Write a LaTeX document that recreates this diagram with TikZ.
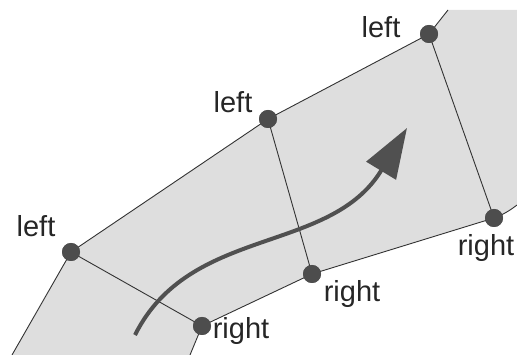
\documentclass[tikz,border=0pt]{standalone}
\usepackage{fontspec}
\setmainfont{Liberation Sans}
\usetikzlibrary{arrows.meta}
\definecolor{stripgray}{RGB}{222, 222, 222}
\definecolor{dotgray}{RGB}{77, 77, 77}
\definecolor{arrowgray}{RGB}{80, 80, 80}

\begin{document}
\begin{tikzpicture}[x=1pt, y=-1pt,
    dot/.style={circle, fill=dotgray, inner sep=0pt, minimum size=18pt},
    lbl/.style={anchor=base, font=\fontsize{29}{30}\selectfont, text=black!85, inner sep=0pt},
    edge/.style={line width=0.9pt, black!80}]
    \useasboundingbox (0,0) rectangle (517,355);

    % corner points of the strip
    \coordinate (bl) at (12,355);
    \coordinate (bm) at (190,355);
    \coordinate (tr) at (448,10);
    \coordinate (rr) at (517,205);

    \fill[stripgray] (bl) -- (71,252) -- (268,119) -- (429,34) -- (tr) -- (517,10)
        -- (rr) to[bend left=8] (494,218) -- (312,274) -- (202,326) -- (bm) -- cycle;

    \node[dot] (l1) at (71,252) {};
    \node[dot] (l2) at (268,119) {};
    \node[dot] (l3) at (429,34) {};
    \node[dot] (r1) at (202,326) {};
    \node[dot] (r2) at (312,274) {};
    \node[dot] (r3) at (494,218) {};

    \draw[edge] (bl) -- (l1.center) -- (l2.center) -- (l3.center) -- (tr);
    \draw[edge] (bm) -- (r1.center) -- (r2.center) -- (r3.center) to[bend right=8] (rr);
    \draw[edge] (l1.center) -- (r1.center);
    \draw[edge] (l2.center) -- (r2.center);
    \draw[edge] (l3.center) -- (r3.center);

    % redraw dots over the lines
    \foreach \p in {l1,l2,l3,r1,r2,r3}
        \fill[dotgray] (\p) circle (9pt);

    \node[lbl] (t1) at (36,237) {left};
    \node[lbl] (t2) at (233,113) {left};
    \node[lbl] (t3) at (381,38) {left};
    \node[lbl] (t4) at (241,339) {right};
    \node[lbl] (t5) at (352,302) {right};
    \node[lbl] (t6) at (486,256) {right};

    % direction of travel
    \coordinate (start) at (135,335);
    \coordinate (tip) at (407,128);
    \draw[arrowgray, line width=4pt, -{Triangle[length=50pt, width=34pt]}]
        (start) .. controls (190,225) and (330,255) .. (tip);
\end{tikzpicture}
\end{document}
